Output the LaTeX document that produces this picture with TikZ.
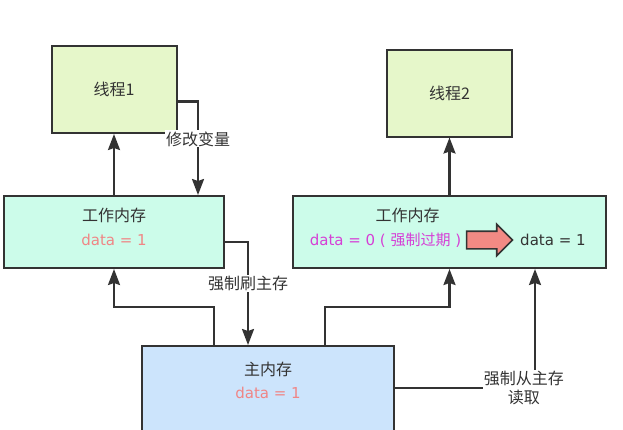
\documentclass[tikz,border=0pt]{standalone}
\usepackage{fontspec}
\setmainfont{Noto Sans CJK SC}
\newfontfamily\cjkfont{Noto Sans CJK SC}
\newfontfamily\latinfont{DejaVu Sans}
\usetikzlibrary{arrows.meta,positioning,shapes.arrows}
\definecolor{threadfill}{HTML}{E6F7CA}
\definecolor{workfill}{HTML}{CCFCEA}
\definecolor{mainfill}{HTML}{CCE4FC}
\definecolor{edgegray}{HTML}{333333}
\definecolor{salmon}{HTML}{F08585}
\definecolor{expired}{HTML}{D63FD6}
\definecolor{pinkarrow}{HTML}{F28A84}
\begin{document}
\begin{tikzpicture}[
    x=1pt, y=-1pt,
    >={Stealth[length=16pt,width=12pt,inset=2pt]},
    node distance=141pt,
    every node/.style={font=\fontsize{16pt}{19pt}\selectfont, text=edgegray},
    box/.style={draw=edgegray, line width=2pt, minimum height=72pt},
    thread/.style={box, fill=threadfill, minimum width=125pt, minimum height=87pt},
    memory/.style={box, fill=workfill},
    flow/.style={->, line width=2.2pt, draw=edgegray},
    tag/.style={fill=white, inner sep=1pt, align=center},
    datatext/.style={font=\latinfont\fontsize{15pt}{18pt}\selectfont}
]
  \useasboundingbox (0,0) rectangle (623,429);
  % Memories
  \node (wm1) [memory, minimum width=220pt] at (114,232) {};
  \node (wm2) [memory, minimum width=313pt] at (449.5,232) {};
  \node (main) [box, fill=mainfill, minimum width=252pt, minimum height=96pt] at (268,394) {};

  % Threads
  \node (thread1) [thread, above of=wm1, yshift=1.5pt] {线程1};
  \node (thread2) [thread, above of=wm2, yshift=-2pt] {线程2};

  % Texts inside the memories
  \node (wm1name) at ([yshift=17pt]wm1.center) {工作内存};
  \node (wm1data) [datatext, text=salmon] at ([yshift=-8pt]wm1.center) {data = 1};
  \node (wm2name) at ([xshift=-42pt, yshift=17pt]wm2.center) {工作内存};
  \node (wm2old) [datatext, text=expired] at ([xshift=-64pt, yshift=-8pt]wm2.center) {data = 0 ( {\cjkfont 强制过期} )};
  \node (stale) [single arrow, draw=edgegray, line width=1.6pt, fill=pinkarrow, minimum height=46pt, minimum width=30pt, single arrow head extend=7pt, inner xsep=0pt, inner ysep=8pt, right=1pt of wm2old] {};
  \node (wm2new) [datatext, right=3pt of stale] {data = 1};
  \node (mainname) at ([yshift=-24pt]main.north) {主内存};
  \node (maindata) [datatext, text=salmon] at ([yshift=-48pt]main.north) {data = 1};

  % Connectors
  \draw[flow] (wm1.north) -- (thread1.south);
  \draw[flow] ([yshift=-12pt]thread1.east) -| node[tag, pos=0.7] {修改变量} ([xshift=84pt]wm1.north);
  \draw[flow] (wm2.north) -- (thread2.south);
  \draw[flow] ([yshift=-10pt]wm1.east) -| node[tag, pos=0.7] {强制刷主存} ([xshift=-20pt]main.north);
  \draw[flow] ([xshift=-54pt]main.north) -- ++(0,-38) -| (wm1.south);
  \draw[flow] ([xshift=57pt]main.north) -- ++(0,-38) -| (wm2.south);
  \draw[flow] ([yshift=6pt]main.east) -| node[tag, pos=0.46] {强制从主存\\读取} ([xshift=85.5pt]wm2.south);
\end{tikzpicture}
\end{document}
